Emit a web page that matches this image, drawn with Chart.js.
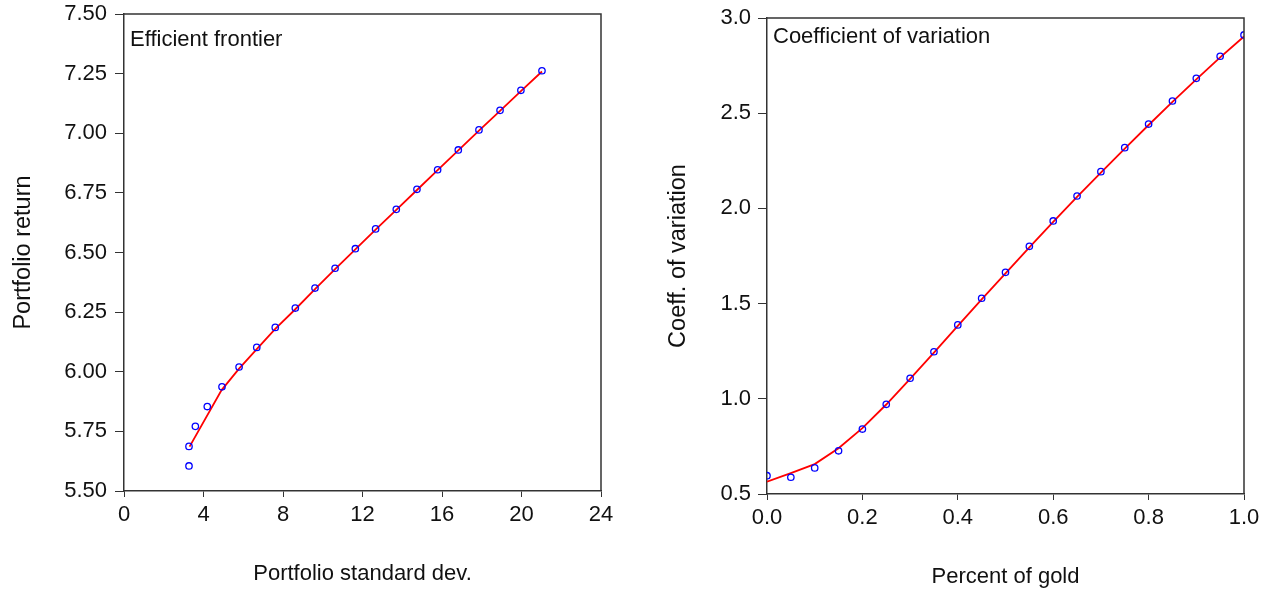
<!DOCTYPE html>
<html>
<head>
<meta charset="utf-8">
<script src="https://cdn.jsdelivr.net/npm/chart.js@4.4.1/dist/chart.umd.min.js"></script>
<style>
  html, body { margin: 0; padding: 0; background: #fff; }
  .panel { position: absolute; top: 0; width: 636px; height: 593px; }
  #leftPanel { left: 0; }
  #rightPanel { left: 636px; }
</style>
</head>
<body>
<div class="panel" id="leftPanel"><canvas id="frontierChart" width="636" height="593"></canvas></div>
<div class="panel" id="rightPanel"><canvas id="cvChart" width="636" height="593"></canvas></div>
<script>
// share of gold in the portfolio
const goldShare = [0, 0.05, 0.10, 0.15, 0.20, 0.25, 0.30, 0.35, 0.40, 0.45, 0.50,
    0.55, 0.60, 0.65, 0.70, 0.75, 0.80, 0.85, 0.90, 0.95, 1.00];

// efficient frontier, observed points
const portStd = [3.27, 3.27, 3.59, 4.19, 4.93, 5.79, 6.68, 7.61, 8.62, 9.61, 10.62,
    11.64, 12.66, 13.70, 14.74, 15.78, 16.82, 17.86, 18.92, 19.97, 21.03];
const portRet = [5.605, 5.687, 5.771, 5.854, 5.937, 6.020, 6.102, 6.186, 6.267, 6.351, 6.434,
    6.516, 6.599, 6.681, 6.765, 6.847, 6.930, 7.014, 7.096, 7.180, 7.262];

// efficient frontier, fitted line
const fitStd = [3.30, 4.91, 5.79, 6.68, 7.61, 8.62, 9.61, 10.62, 11.64, 12.66,
    13.70, 14.74, 15.78, 16.82, 17.86, 18.92, 19.97, 21.03];
const fitRet = [5.686, 5.923, 6.013, 6.095, 6.180, 6.262, 6.346, 6.430, 6.513, 6.596,
    6.679, 6.762, 6.845, 6.928, 7.011, 7.094, 7.177, 7.259];

// coefficient of variation
const cvValues = [0.596, 0.588, 0.637, 0.727, 0.841, 0.971, 1.108, 1.247, 1.388, 1.528, 1.664,
    1.801, 1.934, 2.065, 2.193, 2.319, 2.443, 2.564, 2.683, 2.799, 2.911];
const cvFit = [0.565, 0.610, 0.657, 0.740, 0.846, 0.970, 1.105, 1.243, 1.383, 1.522, 1.659,
    1.795, 1.929, 2.060, 2.188, 2.314, 2.438, 2.559, 2.678, 2.793, 2.903];

const FONT = 'Liberation Sans, Arial, sans-serif';
const INK = '#111';
const AXIS = '#333';

function toPoints(xs, ys) {
    return xs.map((x, i) => ({ x, y: ys[i] }));
}

// frame around the plot area plus the label inside it
const frameAndLabel = {
    id: 'frameAndLabel',
    afterDraw(chart, args, opts) {
        const { ctx, chartArea: a } = chart;
        ctx.save();
        ctx.strokeStyle = AXIS;
        ctx.lineWidth = 1.5;
        ctx.beginPath();
        ctx.moveTo(a.left, a.top);
        ctx.lineTo(a.right, a.top);
        ctx.lineTo(a.right, a.bottom);
        ctx.stroke();
        ctx.fillStyle = INK;
        ctx.font = '22px ' + FONT;
        ctx.textBaseline = 'middle';
        ctx.textAlign = 'left';
        ctx.fillText(opts.text, a.left + 6, a.top + opts.dy);
        ctx.restore();
    }
};

function makeAxis(o) {
    return {
        type: 'linear',
        min: o.min,
        max: o.max,
        title: {
            display: true,
            text: o.title,
            color: INK,
            font: { family: FONT, size: o.titleSize },
            padding: o.titlePad
        },
        ticks: {
            stepSize: o.step,
            color: INK,
            font: { family: FONT, size: 22 },
            padding: o.tickPad,
            maxRotation: 0,
            autoSkip: false,
            callback: v => o.digits == null ? String(v) : Number(v).toFixed(o.digits)
        },
        grid: {
            display: true,
            drawOnChartArea: false,
            drawTicks: true,
            tickLength: o.tickLen,
            color: AXIS,
            lineWidth: 1
        },
        border: { display: true, color: AXIS, width: 1.5 },
        afterFit: s => {
            // layout padding alone decides where the plot area sits
            s.paddingTop = 0;
            s.paddingBottom = 0;
            s.paddingLeft = 0;
            s.paddingRight = 0;
            o.fit(s);
        }
    };
}

function buildChart(canvasId, cfg) {
    return new Chart(document.getElementById(canvasId), {
        type: 'scatter',
        data: {
            datasets: [
                {
                    label: 'fit',
                    data: cfg.line,
                    showLine: true,
                    borderColor: '#ff0000',
                    borderWidth: 1.8,
                    pointRadius: 0,
                    tension: 0,
                    order: 2
                },
                {
                    label: 'observed',
                    data: cfg.points,
                    borderColor: '#0000ff',
                    backgroundColor: 'rgba(0,0,0,0)',
                    borderWidth: 1.3,
                    pointRadius: 3.2,
                    order: 1
                }
            ]
        },
        options: {
            responsive: false,
            animation: false,
            devicePixelRatio: 1,
            layout: { padding: cfg.padding },
            plugins: {
                legend: { display: false },
                tooltip: { enabled: false },
                frameAndLabel: { text: cfg.label, dy: cfg.labelDy }
            },
            scales: { x: cfg.x, y: cfg.y }
        },
        plugins: [frameAndLabel]
    });
}

buildChart('frontierChart', {
    points: toPoints(portStd, portRet),
    line: toPoints(fitStd, fitRet),
    label: 'Efficient frontier',
    labelDy: 26,
    padding: { left: 0, right: 35, top: 14, bottom: 0 },
    x: makeAxis({
        min: 0, max: 24, step: 4, digits: null,
        title: 'Portfolio standard dev.', titleSize: 22,
        titlePad: { top: 0, bottom: 6 },
        tickLen: 6, tickPad: 5,
        fit: s => { s.height = 102; }
    }),
    y: makeAxis({
        min: 5.5, max: 7.5, step: 0.25, digits: 2,
        title: 'Portfolio return', titleSize: 23.5,
        titlePad: { top: 9, bottom: 0 },
        tickLen: 9, tickPad: 8,
        fit: s => { s.width = 124; }
    })
});

buildChart('cvChart', {
    points: toPoints(goldShare, cvValues),
    line: toPoints(goldShare, cvFit),
    label: 'Coefficient of variation',
    labelDy: 19,
    padding: { left: 0, right: 28, top: 18, bottom: 0 },
    x: makeAxis({
        min: 0, max: 1, step: 0.2, digits: 1,
        title: 'Percent of gold', titleSize: 22,
        titlePad: { top: 0, bottom: 3 },
        tickLen: 6, tickPad: 5,
        fit: s => { s.height = 99; }
    }),
    y: makeAxis({
        min: 0.5, max: 3.0, step: 0.5, digits: 1,
        title: 'Coeff. of variation', titleSize: 23.5,
        titlePad: { top: 28, bottom: 0 },
        tickLen: 9, tickPad: 7,
        fit: s => { s.width = 131; }
    })
});
</script>
</body>
</html>
